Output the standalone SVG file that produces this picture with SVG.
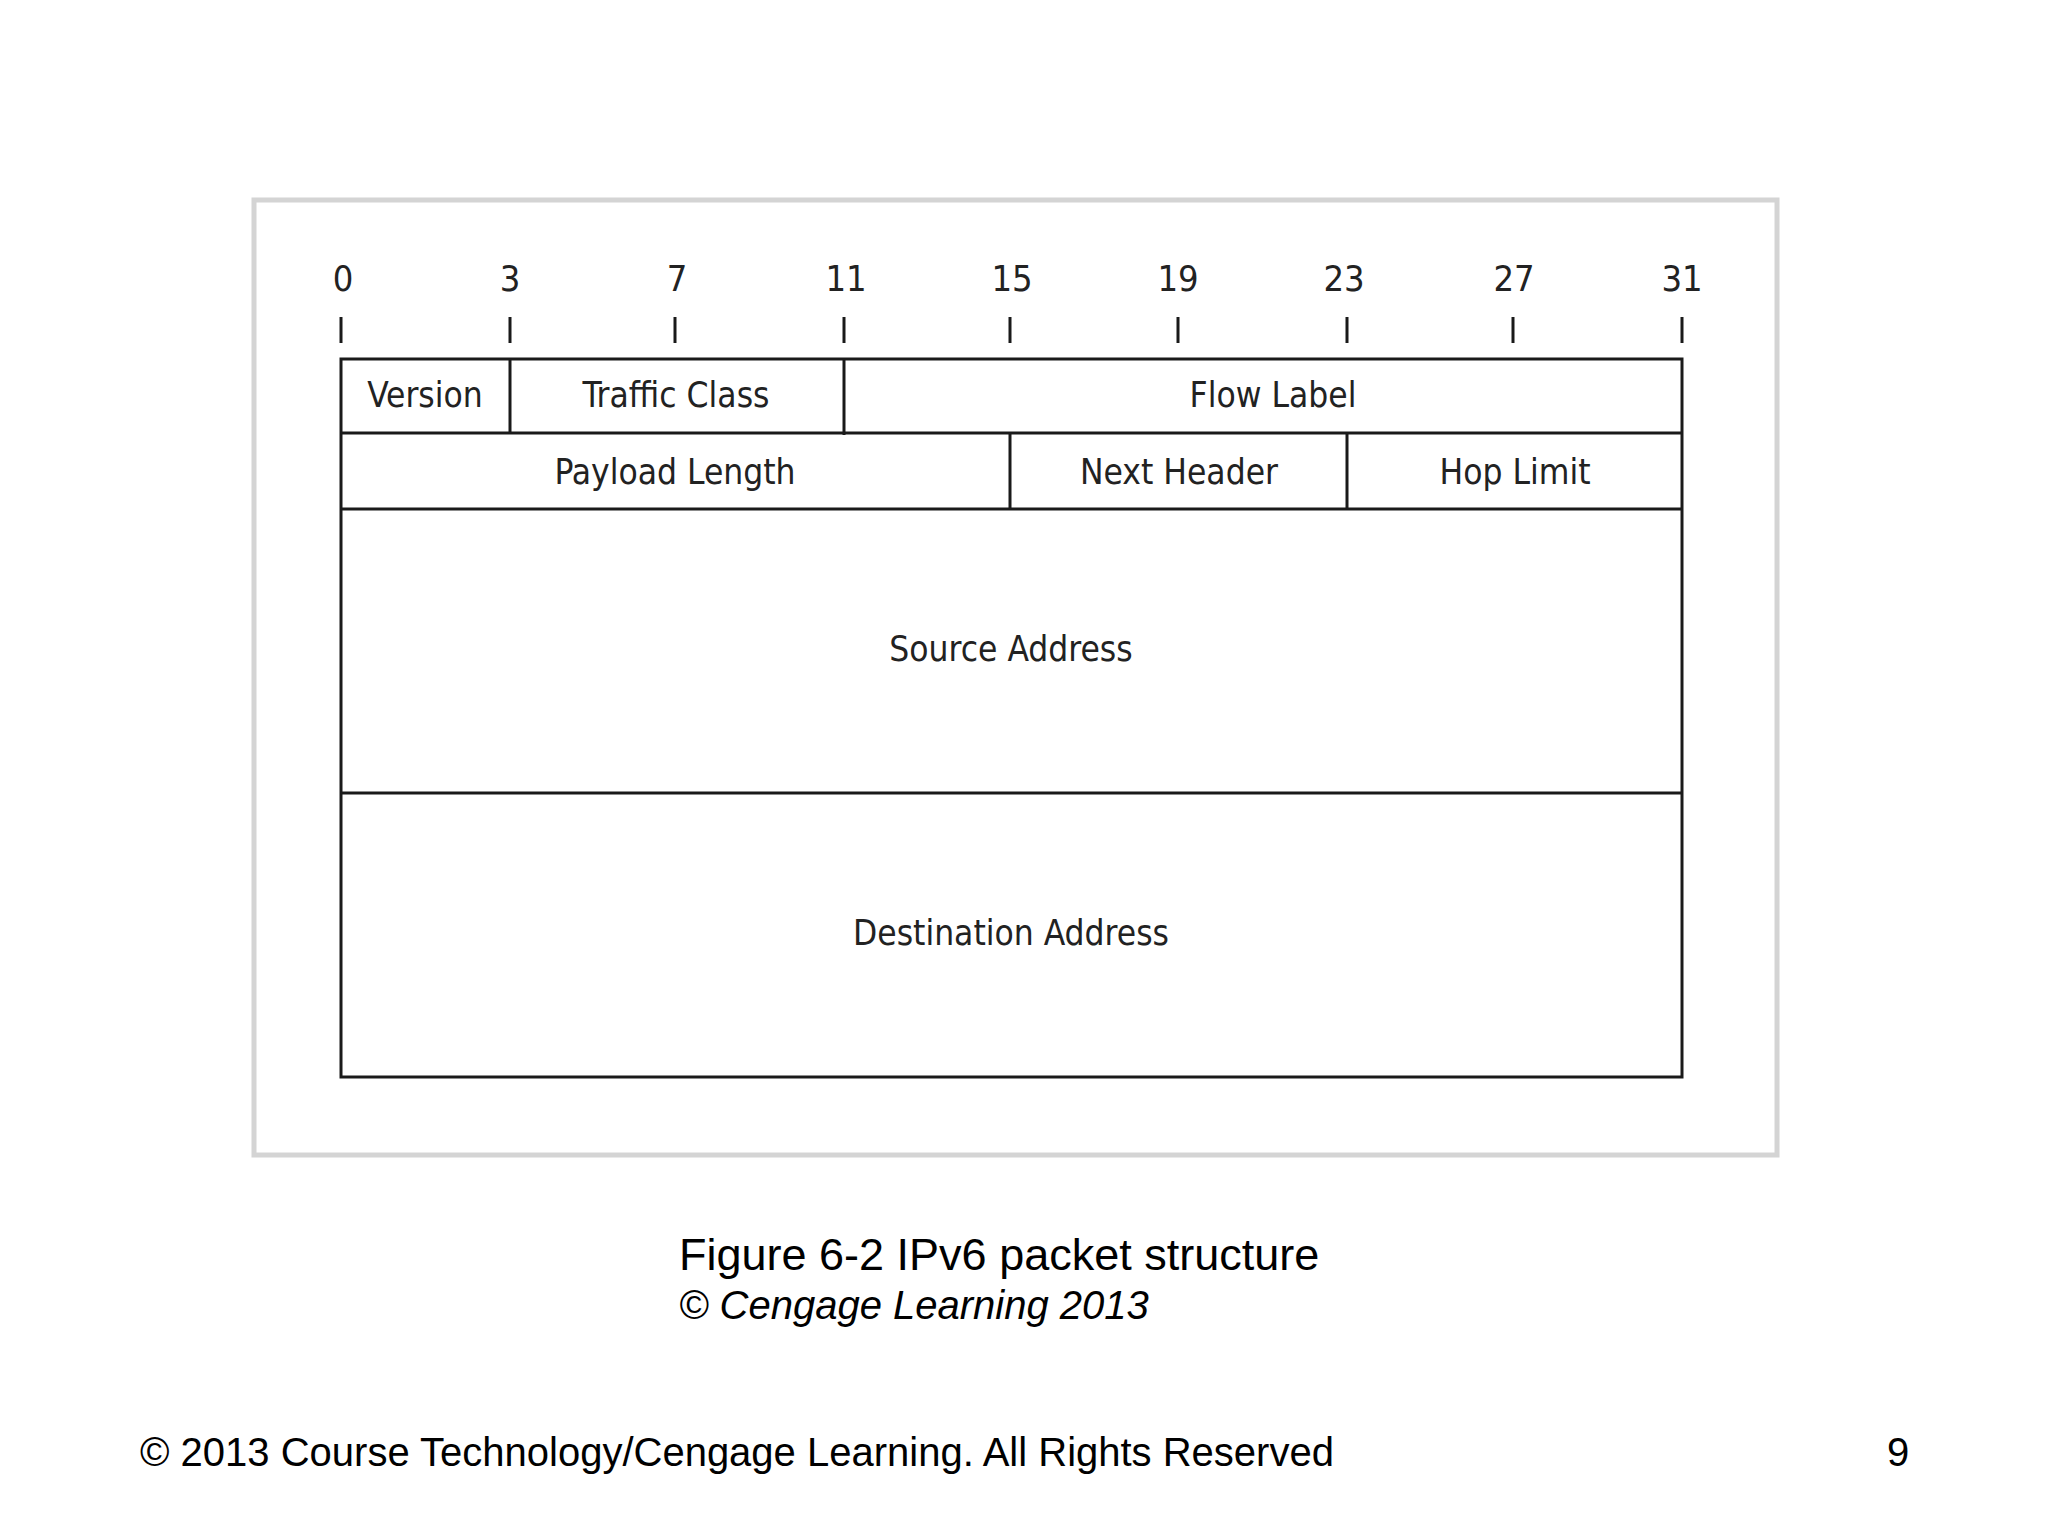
<svg xmlns="http://www.w3.org/2000/svg" width="2048" height="1536" viewBox="0 0 2048 1536">
<style>
.ln{stroke:#1a1a1a;stroke-width:3;fill:none}
.t{font-family:"DejaVu Sans Condensed","DejaVu Sans",sans-serif;font-stretch:condensed;font-size:35px;fill:#222;text-anchor:middle}
.n{font-family:"DejaVu Sans Condensed","DejaVu Sans",sans-serif;font-stretch:condensed;font-size:36px;fill:#222;text-anchor:middle}
.c{font-family:"Liberation Sans",Arial,sans-serif;fill:#000}
</style>
<rect width="2048" height="1536" fill="#fff"/>
<rect x="254" y="200" width="1523" height="955" fill="none" stroke="#d4d4d4" stroke-width="5"/>
<g id="ruler">
<g class="ln"><path d="M341 317v26M510 317v26M675 317v26M844 317v26M1010 317v26M1178 317v26M1347 317v26M1513 317v26M1682 317v26"/></g>
<g class="n"><text x="343" y="291">0</text><text x="510" y="291">3</text><text x="677" y="291">7</text><text x="846" y="291">11</text><text x="1012" y="291">15</text><text x="1178" y="291">19</text><text x="1344" y="291">23</text><text x="1514" y="291">27</text><text x="1682" y="291">31</text></g>
</g>
<g id="table">
<rect class="ln" x="341" y="359" width="1341" height="718"/>
<path class="ln" d="M341 433H1682M341 509H1682M341 793H1682M510 359v74M844 359v76M1010 433v76M1347 433v76"/>
</g>
<g id="fields" class="t">
<text x="425" y="407">Version</text>
<text x="676" y="407">Traffic Class</text>
<text x="1273" y="407">Flow Label</text>
<text x="675" y="484">Payload Length</text>
<text x="1179" y="484">Next Header</text>
<text x="1515" y="484">Hop Limit</text>
<text x="1011" y="661">Source Address</text>
<text x="1011" y="945">Destination Address</text>
</g>
<g id="caption">
<text class="c" x="679" y="1270" font-size="45">Figure 6-2 IPv6 packet structure</text>
<text class="c" x="679" y="1319" font-size="40" font-style="italic">© Cengage Learning 2013</text>
<text class="c" x="140" y="1466" font-size="40">© 2013 Course Technology/Cengage Learning. All Rights Reserved</text>
<text class="c" x="1887" y="1466" font-size="40">9</text>
</g>
</svg>
